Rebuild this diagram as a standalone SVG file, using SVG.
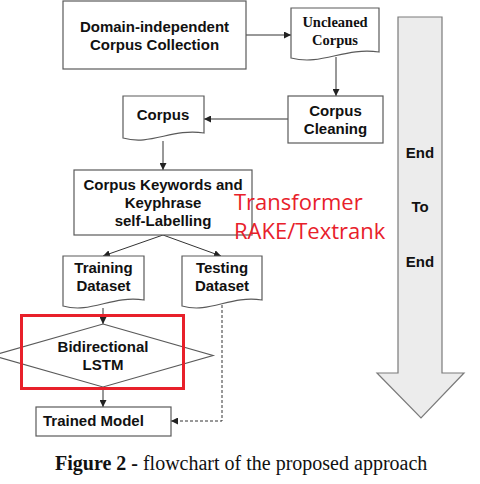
<svg xmlns="http://www.w3.org/2000/svg" width="480" height="484" viewBox="0 0 480 484">
<style>
.box{fill:#fff;stroke:#5a5a5a;stroke-width:1.2}
.t{font-family:"Liberation Sans",Arial,sans-serif;font-weight:bold;font-size:15px;fill:#111;text-anchor:middle}
.ts{font-family:"Liberation Serif","Times New Roman",serif;font-weight:bold;font-size:14.5px;fill:#111;text-anchor:middle}
.ln{fill:none;stroke:#333;stroke-width:1}
.red{font-family:"Open Sans","Noto Sans",sans-serif;font-size:22px;fill:#e8202a}
</style>
<defs>
<marker id="ah" viewBox="0 0 8 8" refX="8" refY="4" markerWidth="7" markerHeight="7" markerUnits="userSpaceOnUse" orient="auto">
<path d="M0,0 L8,4 L0,8 Z" fill="#222"/>
</marker>
</defs>
<rect width="480" height="484" fill="#fff"/>
<g id="bigarrow">
<polygon points="398,17 442,17 442,373 464,373 421,418 377,373 398,373" fill="#ececec" stroke="#7a7a7a" stroke-width="1.2"/>
<text class="t" x="420" y="158">End</text>
<text class="t" x="420" y="212">To</text>
<text class="t" x="420" y="267">End</text>
</g>
<g id="connectors">
<line class="ln" x1="246" y1="35" x2="291" y2="35" marker-end="url(#ah)"/>
<line class="ln" x1="336" y1="57" x2="336" y2="96" marker-end="url(#ah)"/>
<line class="ln" x1="288" y1="119" x2="204" y2="119" marker-end="url(#ah)"/>
<line class="ln" x1="163" y1="141" x2="163" y2="170" marker-end="url(#ah)"/>
<line class="ln" x1="163" y1="235" x2="103" y2="256" marker-end="url(#ah)"/>
<line class="ln" x1="163" y1="235" x2="221" y2="256" marker-end="url(#ah)"/>
<line class="ln" x1="103" y1="308" x2="103" y2="324" marker-end="url(#ah)"/>
<line class="ln" x1="103" y1="387" x2="103" y2="407" marker-end="url(#ah)"/>
<polyline class="ln" points="222,305 222,421 171,421" stroke-dasharray="3,2" marker-end="url(#ah)"/>
</g>
<g id="collection">
<rect class="box" x="63" y="1" width="183" height="68"/>
<text class="t" x="154.5" y="32">Domain-independent</text>
<text class="t" x="154.5" y="50">Corpus Collection</text>
</g>
<g id="uncleaned">
<path class="box" d="M291,8 H379 V52 C344,47 322,66 291,58 Z"/>
<text class="ts" x="335" y="27">Uncleaned</text>
<text class="ts" x="335" y="45">Corpus</text>
</g>
<g id="cleaning">
<rect class="box" x="288" y="96" width="95" height="47"/>
<text class="t" x="335.5" y="116">Corpus</text>
<text class="t" x="335.5" y="134">Cleaning</text>
</g>
<g id="corpus">
<path class="box" d="M123,96 H204 V133 C172,128 151,146 123,138 Z"/>
<text class="t" x="163" y="120">Corpus</text>
</g>
<g id="labelling">
<rect class="box" x="74" y="170" width="178" height="65"/>
<text class="t" x="163" y="190">Corpus Keywords and</text>
<text class="t" x="163" y="208">Keyphrase</text>
<text class="t" x="163" y="226">self-Labelling</text>
</g>
<g id="training">
<path class="box" d="M63,256 H144 V300 C112,295 91,314 63,306 Z"/>
<text class="t" x="103.5" y="273">Training</text>
<text class="t" x="103.5" y="291">Dataset</text>
</g>
<g id="testing">
<path class="box" d="M182,256 H262 V300 C230,295 210,314 182,306 Z"/>
<text class="t" x="222" y="273">Testing</text>
<text class="t" x="222" y="291">Dataset</text>
</g>
<g id="lstm">
<polygon class="box" points="103,324 213,355.5 103,387 -7,355.5"/>
<text class="t" x="103" y="352">Bidirectional</text>
<text class="t" x="103" y="370">LSTM</text>
</g>
<g id="highlight">
<rect x="21.5" y="315.5" width="162" height="73" fill="none" stroke="#e8202a" stroke-width="3"/>
</g>
<g id="trained">
<rect class="box" x="36" y="407" width="135" height="29"/>
<text class="t" x="43" y="426" style="text-anchor:start">Trained Model</text>
</g>
<g id="annotation">
<text class="red" x="234" y="210">Transformer</text>
<text class="red" x="234" y="239">RAKE/Textrank</text>
</g>
<g id="caption">
<text x="55" y="470" font-family="'Liberation Serif','Times New Roman',serif" font-size="20" fill="#111"><tspan font-weight="bold">Figure 2 -</tspan> flowchart of the proposed approach</text>
</g>
</svg>
